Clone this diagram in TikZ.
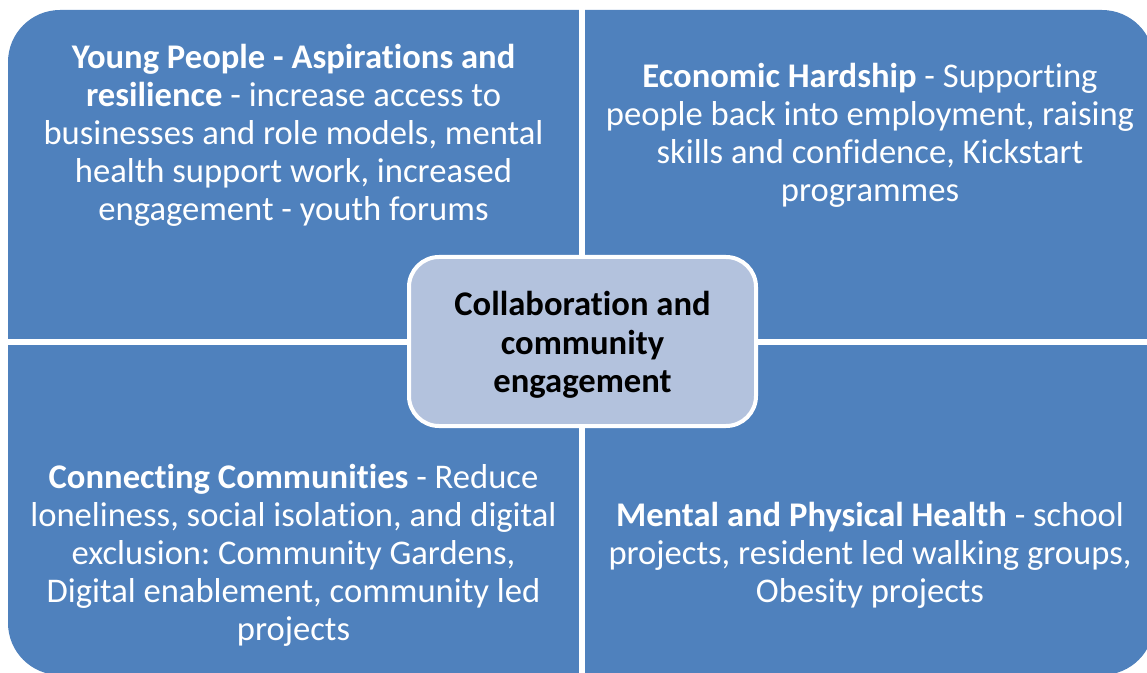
\documentclass[tikz,border=0pt]{standalone}
\usepackage{fontspec}
\setmainfont{Carlito}[Ligatures=NoCommon]
\frenchspacing
\definecolor{qblue}{HTML}{4F81BD}
\definecolor{cblue}{HTML}{B3C2DD}
\begin{document}
\begin{tikzpicture}[x=1bp,y=-1bp,
  qtext/.style={text=white,align=center,font=\fontsize{34.6bp}{38bp}\selectfont,inner sep=0pt},
  ctext/.style={text=black,align=center,font=\fontsize{34.6bp}{38.5bp}\selectfont\bfseries,inner sep=0pt},
  sep/.style={white,line width=6bp}]
\useasboundingbox (0,0) rectangle (1147,673);
\clip (0,0) rectangle (1147,673);
% quadrants
\fill[qblue,rounded corners=52bp] (8,10) rectangle (1154,675);
\coordinate (vt) at (582,0);
\coordinate (vb) at (582,680);
\coordinate (hl) at (0,342);
\coordinate (hr) at (1160,342);
\draw[sep] (vt) -- (vb);
\draw[sep] (hl) -- (hr);
% center
\node[draw=white,line width=4bp,fill=cblue,rounded corners=30bp,minimum width=347bp,minimum height=169bp] (center) at (582.5,341.5) {};
\node[ctext] (ctxt) at (582.5,345) {Collaboration and\\community\\engagement};
% texts
\node[qtext] (tl) at (293.5,135) {\textbf{Young People - Aspirations and}\\\textbf{resilience} - increase access to\\businesses and role models, mental\\health support work, increased\\engagement - youth forums};
\node[qtext] (tr) at (870,135) {\textbf{Economic Hardship} - Supporting\\people back into employment, raising\\skills and confidence, Kickstart\\programmes};
\node[qtext] (bl) at (293.5,555) {\textbf{Connecting Communities} - Reduce\\loneliness, social isolation, and digital\\exclusion: Community Gardens,\\Digital enablement, community led\\projects};
\node[qtext] (br) at (870,555) {\textbf{Mental and Physical Health} - school\\projects, resident led walking groups,\\Obesity projects};
\end{tikzpicture}
\end{document}
